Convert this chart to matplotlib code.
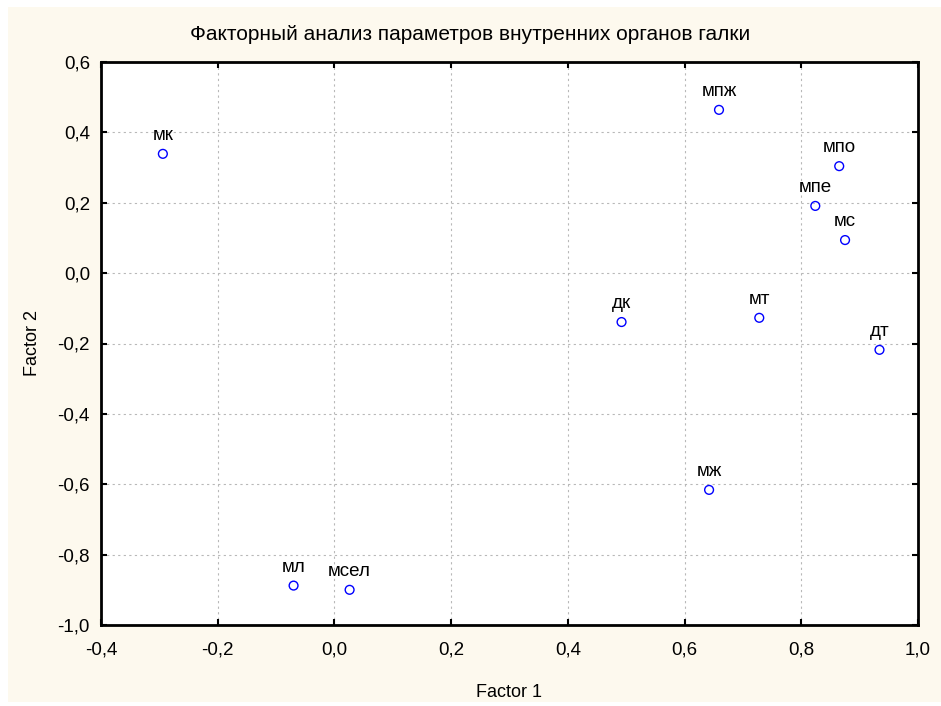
import matplotlib
matplotlib.use('Agg')
import matplotlib.pyplot as plt
from matplotlib.patches import Rectangle
from matplotlib.ticker import FuncFormatter, MultipleLocator

labels = ['мк', 'мпж', 'мпо', 'мпе', 'мс', 'дк', 'мт', 'дт', 'мж', 'мл', 'мсел']
factor1 = [-0.294, 0.659, 0.865, 0.824, 0.875, 0.492, 0.728, 0.934, 0.642, -0.070, 0.026]
factor2 = [0.339, 0.464, 0.304, 0.191, 0.094, -0.139, -0.127, -0.218, -0.616, -0.888, -0.900]

plt.rcParams['font.family'] = ['Liberation Sans', 'DejaVu Sans']

fig = plt.figure(figsize=(9.41, 7.06), dpi=100)
fig.patch.set_facecolor('white')
bg = Rectangle((8 / 941, 4 / 706), 1, 1 - 11 / 706, transform=fig.transFigure,
               facecolor='#fdf9ee', edgecolor='none', zorder=-10)
fig.patches.append(bg)

ax = fig.add_axes([101 / 941, 81 / 706, 817 / 941, 563 / 706])
ax.set_zorder(5)
ax.set_facecolor('white')
ax.scatter(factor1, factor2, s=40, facecolors='none', edgecolors='#0000ff', linewidths=1, zorder=3)
for x, y, lab in zip(factor1, factor2, labels):
    ax.annotate(lab, (x, y), xytext=(0, 7), textcoords='offset points',
                ha='center', va='bottom', fontsize=13.5)

ax.set_xlim(-0.4, 1.0)
ax.set_ylim(-1.0, 0.6)
ax.xaxis.set_major_locator(MultipleLocator(0.2))
ax.yaxis.set_major_locator(MultipleLocator(0.2))
fmt = FuncFormatter(lambda v, p: ('%.1f' % v).replace('.', ',').replace('-0,0', '0,0'))
ax.xaxis.set_major_formatter(fmt)
ax.yaxis.set_major_formatter(fmt)
ax.tick_params(direction='in', top=True, right=True, length=4, width=1.5, labelsize=13.5)
ax.tick_params(axis='x', pad=12)
ax.tick_params(axis='y', pad=8)
ax.grid(True, color='#b8b8b8', linestyle=(0, (2, 3)), linewidth=0.8)
for sp in ax.spines.values():
    sp.set_linewidth(2)

ax.set_xlabel('Factor 1', fontsize=13, labelpad=18)
ax.set_ylabel('Factor 2', fontsize=13, labelpad=12)
fig.text(0.5, 1 - 35 / 706, 'Факторный анализ параметров внутренних органов галки',
         ha='center', va='center', fontsize=15, zorder=6)

fig.savefig('out.png', dpi=100, facecolor=fig.get_facecolor())
